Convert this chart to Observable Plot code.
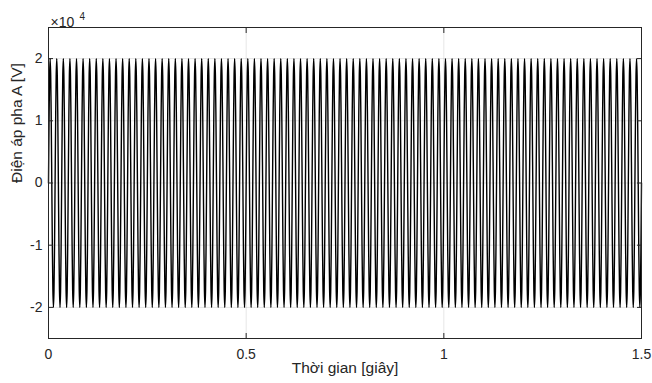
<!DOCTYPE html>
<html>
<head>
<meta charset="utf-8">
<script src="https://cdn.jsdelivr.net/npm/d3@7"></script>
<script src="https://cdn.jsdelivr.net/npm/@observablehq/plot@0.6"></script>
<style>
  html, body { margin: 0; padding: 0; background: #fff; }
  svg { display: block; }
</style>
</head>
<body>
<div id="chart"></div>
<script>
// --- data ---
const duration = 1.5;            // seconds shown
const cycleCount = 90;           // 60 Hz → 90 periods in 1.5 s
// one period of the phase-A voltage, sampled 12 times (V)
const oneCycle = [0, 10000, 17320, 20000, 17320, 10000, 0, -10000, -17320, -20000, -17320, -10000];
const xTicks = [0, 0.5, 1, 1.5];
const yTicks = [-20000, -10000, 0, 10000, 20000];
const xLabel = "Thời gian [giây]";
const yLabel = "Điện áp pha A [V]";

// build the table by repeating the measured period
const period = duration / cycleCount;
const n = oneCycle.length;
const rows = [];
for (let c = 0; c < cycleCount; c++) {
  for (let i = 0; i < n; i++) {
    rows.push({t: c * period + (i / n) * period, v: oneCycle[i]});
  }
}
rows.push({t: duration, v: oneCycle[0]});

const ink = "#262626";
const fontFamily = "'Liberation Sans', Arial, sans-serif";

const chart = Plot.plot({
  width: 652,
  height: 383,
  marginLeft: 48,
  marginRight: 11,
  marginTop: 27,
  marginBottom: 45,
  style: {fontFamily, fontSize: "14px", color: ink, background: "#fff"},
  x: {domain: [0, duration], ticks: xTicks, label: null},
  y: {domain: [-25000, 25000], ticks: yTicks, label: null},
  marks: [
    Plot.gridX(xTicks, {stroke: "#000", strokeOpacity: 0.1}),
    Plot.gridY(yTicks, {stroke: "#000", strokeOpacity: 0.1}),
    Plot.line(rows, {x: "t", y: "v", stroke: "#000", strokeWidth: 1.4, curve: "catmull-rom"}),
    Plot.frame({stroke: ink}),
    // inward tick marks on all four sides
    Plot.axisX(xTicks, {anchor: "bottom", tickSize: -5, tickFormat: () => "", stroke: ink, label: null}),
    Plot.axisX(xTicks, {anchor: "top", tickSize: -5, tickFormat: () => "", stroke: ink, label: null}),
    Plot.axisY(yTicks, {anchor: "left", tickSize: -5, tickFormat: () => "", stroke: ink, label: null}),
    Plot.axisY(yTicks, {anchor: "right", tickSize: -5, tickFormat: () => "", stroke: ink, label: null}),
    // tick labels
    Plot.axisX(xTicks, {anchor: "bottom", tickSize: 0, tickPadding: 11, fill: ink, fontSize: 14, label: null, tickFormat: d => String(d)}),
    Plot.axisY(yTicks, {anchor: "left", tickSize: 0, tickPadding: 6, fill: ink, fontSize: 14, label: null, tickFormat: d => String(d / 10000)}),
    // exponent label
    Plot.text(["×10"], {frameAnchor: "top-left", text: d => d, dx: 2, dy: -10, textAnchor: "start", fill: ink, fontSize: 14}),
    Plot.text(["4"], {frameAnchor: "top-left", text: d => d, dx: 31, dy: -15, textAnchor: "start", fill: ink, fontSize: 10}),
    // axis titles
    Plot.text([xLabel], {frameAnchor: "bottom", text: d => d, dy: 34, fill: ink, fontSize: 15.5}),
    Plot.text([yLabel], {frameAnchor: "left", text: d => d, dx: -31, rotate: -90, fill: ink, fontSize: 15.5})
  ]
});
document.getElementById("chart").appendChild(chart);
</script>
</body>
</html>
